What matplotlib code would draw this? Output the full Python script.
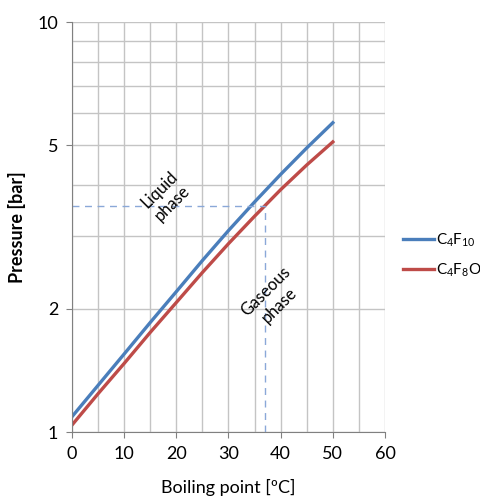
import matplotlib.pyplot as plt
import matplotlib.ticker as ticker

# Daten
temp = [0, 5, 10, 15, 20, 25, 30, 35, 40, 45, 50]
c4f10 = [1.09, 1.30, 1.55, 1.85, 2.20, 2.62, 3.10, 3.64, 4.25, 4.93, 5.68]
c4f8o = [1.04, 1.24, 1.47, 1.75, 2.07, 2.45, 2.88, 3.36, 3.90, 4.48, 5.10]
bp_mark = 37
p_mark = 3.55

plt.rcParams['font.family'] = ['Lato', 'DejaVu Sans']
plt.rcParams['mathtext.fontset'] = 'custom'
plt.rcParams['mathtext.rm'] = 'Lato'
plt.rcParams['mathtext.it'] = 'Lato:italic'

fig = plt.figure(figsize=(4.81, 4.98), dpi=100)
ax = fig.add_axes([0.1497, 0.1325, 0.6507, 0.8233])

ax.plot(temp, c4f10, color="#4a7ebb", linewidth=2.4, label=r"C$_4$F$_{10}$")
ax.plot(temp, c4f8o, color="#be4b48", linewidth=2.4, label=r"C$_4$F$_8$O")

ax.plot([0, bp_mark], [p_mark, p_mark], color="#8aa8d8", linestyle=(0, (5, 4)), linewidth=1)
ax.plot([bp_mark, bp_mark], [1, p_mark], color="#8aa8d8", linestyle=(0, (5, 4)), linewidth=1)

ax.set_yscale("log")
ax.set_xlim(0, 60)
ax.set_ylim(1, 10)
ax.xaxis.set_major_locator(ticker.MultipleLocator(10))
ax.xaxis.set_minor_locator(ticker.MultipleLocator(5))
ax.yaxis.set_major_locator(ticker.FixedLocator([1, 2, 5, 10]))
ax.yaxis.set_major_formatter(ticker.FixedFormatter(["1", "2", "5", "10"]))
ax.yaxis.set_minor_locator(ticker.FixedLocator([3, 4, 6, 7, 8, 9]))
ax.yaxis.set_minor_formatter(ticker.NullFormatter())

ax.grid(which="both", color="#c4c4c4", linewidth=1)
ax.set_axisbelow(True)
for s in ["top", "right"]:
    ax.spines[s].set_visible(False)
for s in ["left", "bottom"]:
    ax.spines[s].set_color("#808080")
ax.tick_params(which="major", length=4, color="#808080", labelsize=13, pad=6)
ax.tick_params(which="minor", length=0)

ax.set_xlabel("Boiling point [ºC]", fontsize=13, labelpad=12)
ax.set_ylabel("Pressure [bar]", fontsize=13, fontweight="bold", labelpad=8)

ax.text(18, 3.75, "Liquid\nphase", rotation=45, fontsize=12, ha="center", va="center",
        linespacing=1.2)
ax.text(38.5, 2.12, "Gaseous\nphase", rotation=45, fontsize=12, ha="center", va="center",
        linespacing=1.2)

fig.legend(loc="center left", bbox_to_anchor=(403 / 481, 1 - 255 / 498), frameon=False,
           fontsize=11, handlelength=2.0, handletextpad=0.15, labelspacing=0.85,
           borderpad=0, borderaxespad=0)

plt.savefig("out.png", dpi=100)
